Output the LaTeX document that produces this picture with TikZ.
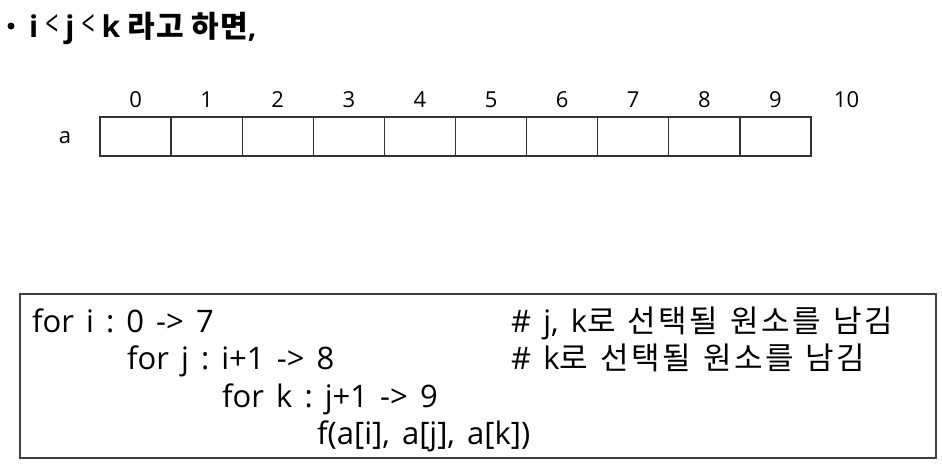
\documentclass[tikz,border=0pt]{standalone}
\usepackage{graphicx}
\usepackage{fontspec}
\setmainfont{Open Sans}
\newfontfamily\codefont{Open Sans}[WordSpace=1.5]
\newfontfamily\kr{Noto Sans CJK KR}[LetterSpace=8,WordSpace=1.3]
\newfontfamily\krbold{Noto Sans CJK KR Bold}[LetterSpace=3]
\newlength{\du}
\setlength{\du}{1pt}
\newcommand{\lessmark}{\hspace*{7\du}\resizebox{13\du}{22\du}{\mdseries\fontsize{30}{34}\selectfont <}\hspace*{7\du}}
\frenchspacing

\begin{document}
\begin{tikzpicture}
\pgftransformxscale{1.000000}
\pgftransformyscale{-1.000000}
\tikzset{
  cell/.style={draw=black!80, line width=1.3\du, minimum width=71.1\du, minimum height=39\du, inner sep=0pt},
  idx/.style={inner sep=0pt, font=\fontsize{22}{26}\selectfont},
  code/.style={anchor=base west, inner sep=0pt, font=\codefont\fontsize{31}{36}\selectfont}
}
\useasboundingbox (0\du,0\du) rectangle (942\du,463\du);
% title
\node[circle, fill=black, inner sep=0pt, minimum size=7\du] (dot) at (11\du,26\du) {};
\node[anchor=base west, inner sep=0pt, font=\bfseries\fontsize{30}{34}\selectfont] (title) at (29\du,37\du) {i\lessmark j\lessmark k {\krbold 라고 하면},};
% array a
\node[idx] (alabel) at (65\du,138\du) {a};
\foreach \i in {0,...,9}{
  \pgfmathsetmacro{\cx}{135.55+71.1*\i}
  \node[cell] (c\i) at (\cx\du,136.5\du) {};
}
\foreach \i in {0,...,10}{
  \pgfmathsetmacro{\cx}{135.55+71.1*\i}
  \node[idx] (n\i) at (\cx\du,100\du) {\i};
}
% code box
\node[draw=black!75, line width=2\du, minimum width=916\du, minimum height=164\du, inner sep=0pt] (codebox) at (478\du,376\du) {};
\node[code] (loopi) at (32\du,332\du) {for i : 0 -> 7};
\node[code] (loopj) at (127\du,369.5\du) {for j : i+1 -> 8};
\node[code] (loopk) at (222\du,407\du) {for k : j+1 -> 9};
\node[code] (call) at (317\du,444.5\du) {f(a[i], a[j], a[k])};
\node[code] (noteij) at (511\du,332\du) {\# j, k{\kr 로 선택될 원소를 남김}};
\node[code] (notek) at (511\du,369.5\du) {\# k{\kr 로 선택될 원소를 남김}};
\end{tikzpicture}
\end{document}
